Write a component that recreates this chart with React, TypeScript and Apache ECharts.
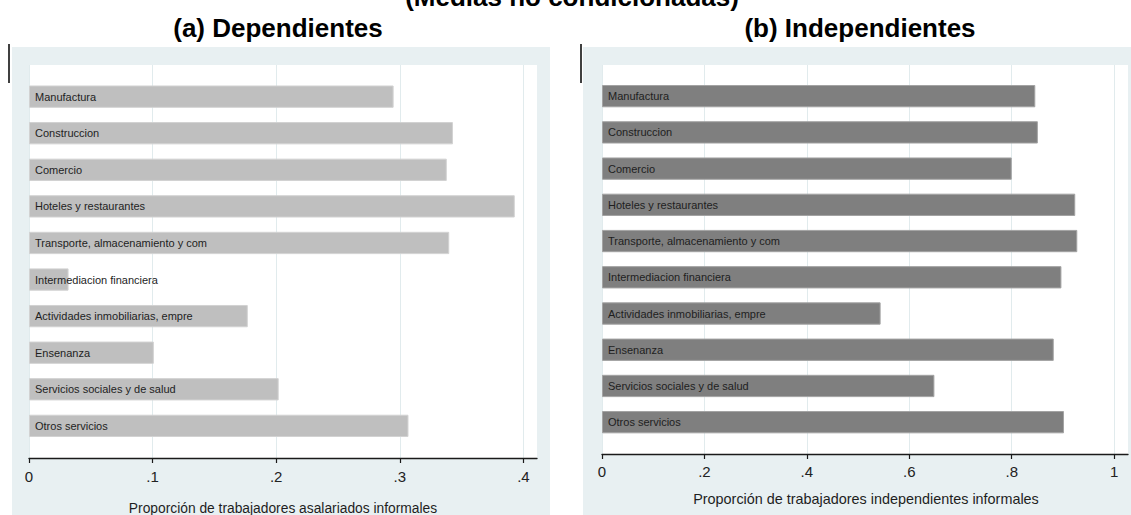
import * as echarts from "echarts";
import { useEffect, useRef } from "react";

const sectors = [
  "Manufactura",
  "Construccion",
  "Comercio",
  "Hoteles y restaurantes",
  "Transporte, almacenamiento y com",
  "Intermediacion financiera",
  "Actividades inmobiliarias, empre",
  "Ensenanza",
  "Servicios sociales y de salud",
  "Otros servicios",
];
const dependientes = [0.295, 0.343, 0.338, 0.393, 0.34, 0.032, 0.177, 0.101, 0.202, 0.307];
const independientes = [0.846, 0.851, 0.8, 0.924, 0.928, 0.897, 0.544, 0.882, 0.649, 0.902];
const leftTicks = [0, 0.1, 0.2, 0.3, 0.4];
const rightTicks = [0, 0.2, 0.4, 0.6, 0.8, 1];

const FONT = "'Liberation Sans', Arial, sans-serif";
const PANEL_BG = "#e8f0f2";
const GRID_LINE = "#e1ebed";
const AXIS_COLOR = "#1a1a1a";

const fmt = (v: number) => {
  if (v === 0) return "0";
  if (v === 1) return "1";
  return String(+v.toFixed(2)).replace(/^0/, "");
};

function visibleAxis(gridIndex: number, max: number, interval: number, ticks: number[], margin: number, size: number) {
  return {
    type: "value",
    gridIndex,
    min: 0,
    max,
    interval,
    axisLine: { show: true, lineStyle: { color: AXIS_COLOR, width: 1.3 } },
    axisTick: { show: true, length: 5, customValues: ticks, lineStyle: { color: AXIS_COLOR, width: 1.2 } },
    axisLabel: {
      customValues: ticks,
      margin,
      formatter: fmt,
      color: "#222",
      fontSize: size,
      fontFamily: FONT,
    },
    splitLine: { show: true, lineStyle: { color: GRID_LINE, width: 1 } },
  };
}

function hiddenX(gridIndex: number, max: number) {
  return { type: "value", gridIndex, min: 0, max, show: false, splitLine: { show: false } };
}

function barSeries(idx: number, data: number[], color: string, border: string) {
  return {
    type: "bar",
    xAxisIndex: idx,
    yAxisIndex: idx,
    data,
    barWidth: 22.3,
    itemStyle: { color, borderColor: border, borderWidth: 1 },
    label: {
      show: true,
      position: "insideLeft",
      distance: 6,
      formatter: "{b}",
      color: "#1e1e1e",
      fontSize: 11,
      fontFamily: FONT,
    },
  };
}

export default function App() {
  const ref = useRef<HTMLDivElement>(null);

  useEffect(() => {
    const chart = echarts.init(ref.current!, null, { renderer: "svg" });
    chart.setOption({
      animation: false,
      backgroundColor: "#ffffff",
      grid: [
        { left: 29, top: 65, width: 508, height: 393, show: true, backgroundColor: "#ffffff", borderWidth: 0 },
        { left: 29, top: 78.35, width: 508, height: 365.8 },
        { left: 602, top: 65, width: 526, height: 389, show: true, backgroundColor: "#ffffff", borderWidth: 0 },
        { left: 602, top: 78.04, width: 526, height: 362.26 },
      ],
      xAxis: [
        visibleAxis(0, 0.411, 0.1, leftTicks, 11, 15),
        hiddenX(1, 0.411),
        visibleAxis(2, 1.027, 0.2, rightTicks, 10, 15),
        hiddenX(3, 1.027),
      ],
      yAxis: [
        { type: "value", gridIndex: 0, show: false, splitLine: { show: false } },
        { type: "category", gridIndex: 1, data: sectors, inverse: true, show: false },
        { type: "value", gridIndex: 2, show: false, splitLine: { show: false } },
        { type: "category", gridIndex: 3, data: sectors, inverse: true, show: false },
      ],
      series: [
        barSeries(1, dependientes, "#bfbfbf", "#d2d2d2"),
        barSeries(3, independientes, "#7f7f7f", "#a3a3a3"),
      ],
      graphic: [
        { type: "rect", z: -10, shape: { x: 12, y: 47, width: 538, height: 470 }, style: { fill: PANEL_BG } },
        { type: "rect", z: -10, shape: { x: 583, y: 47, width: 550, height: 470 }, style: { fill: PANEL_BG } },
        { type: "line", shape: { x1: 9, y1: 44, x2: 9, y2: 83 }, style: { stroke: "#000", lineWidth: 1.5 } },
        { type: "line", shape: { x1: 581, y1: 44, x2: 581, y2: 83 }, style: { stroke: "#000", lineWidth: 1.5 } },
        {
          type: "text",
          x: 572,
          y: -3,
          style: {
            text: "(Medias no condicionadas)",
            fill: "#000",
            font: `bold 26px ${FONT}`,
            align: "center",
            verticalAlign: "middle",
          },
        },
        {
          type: "text",
          x: 278,
          y: 28,
          style: {
            text: "(a) Dependientes",
            fill: "#000",
            font: `bold 26px ${FONT}`,
            align: "center",
            verticalAlign: "middle",
          },
        },
        {
          type: "text",
          x: 860,
          y: 28,
          style: {
            text: "(b) Independientes",
            fill: "#000",
            font: `bold 26px ${FONT}`,
            align: "center",
            verticalAlign: "middle",
          },
        },
        {
          type: "text",
          x: 283,
          y: 508,
          style: {
            text: "Proporción de trabajadores asalariados informales",
            fill: "#1e1e1e",
            font: `13.8px ${FONT}`,
            align: "center",
            verticalAlign: "middle",
          },
        },
        {
          type: "text",
          x: 866,
          y: 499,
          style: {
            text: "Proporción de trabajadores independientes informales",
            fill: "#1e1e1e",
            font: `14.4px ${FONT}`,
            align: "center",
            verticalAlign: "middle",
          },
        },
      ],
    });
    return () => chart.dispose();
  }, []);

  return (
    <div
      ref={ref}
      style={{ position: "absolute", left: 0, top: 0, width: 1131, height: 515 }}
    />
  );
}
